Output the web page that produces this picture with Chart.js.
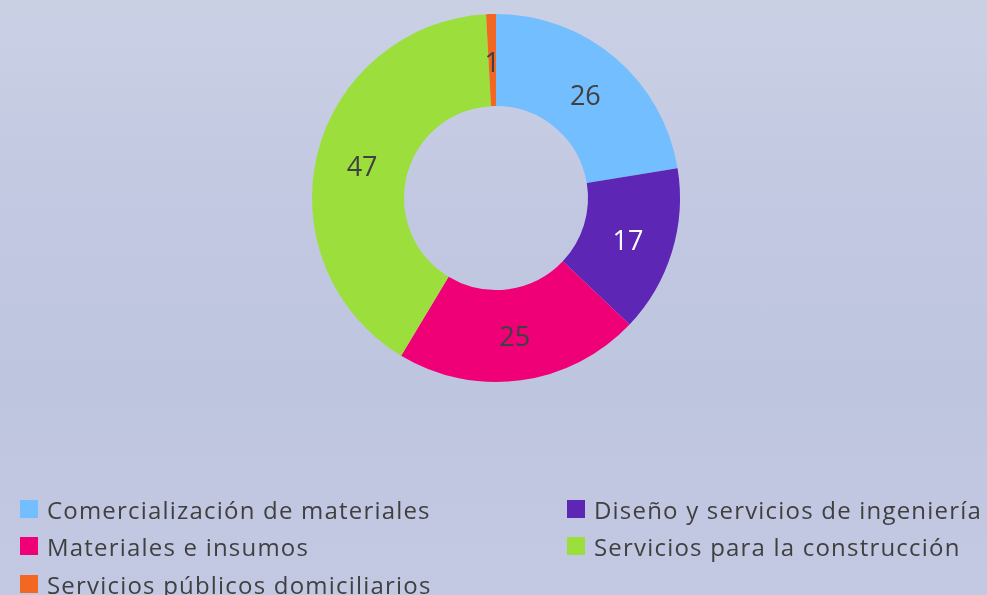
<!DOCTYPE html>
<html>
<head>
<meta charset="utf-8">
<script src="https://cdn.jsdelivr.net/npm/chart.js@4/dist/chart.umd.min.js"></script>
<style>
  html, body { margin: 0; padding: 0; }
  body {
    width: 987px; height: 595px; overflow: hidden; position: relative;
    background: linear-gradient(to bottom, #cad0e4 0%, #c2c8e1 35%, #bec5df 65%, #c4c9e3 100%);
    font-family: "Open Sans", sans-serif;
  }
  #chartBox { position: absolute; left: 0; top: 0; width: 987px; height: 397px; }
  #leyenda { position: absolute; left: 0; top: 0; width: 987px; height: 595px; }
  .item { position: absolute; display: flex; align-items: center; height: 18px; color: #404040; font-size: 24px; letter-spacing: 1.2px; white-space: nowrap; }
  .item span.caja { width: 18px; height: 18px; margin-right: 9px; flex: none; }
</style>
</head>
<body>
<div id="chartBox"><canvas id="graficoRosca"></canvas></div>
<div id="leyenda"></div>
<script>
const categorias = [
    'Comercialización de materiales',
    'Diseño y servicios de ingeniería',
    'Materiales e insumos',
    'Servicios para la construcción',
    'Servicios públicos domiciliarios'
];
const valores = [26, 17, 25, 47, 1];
const cores = ['#72befe', '#5d26b5', '#f00077', '#9cde3c', '#f26822'];
const coresTexto = ['#404040', '#ffffff', '#404040', '#404040', '#404040'];

// rotulos no meio de cada fatia
const rotulosPlugin = {
    id: 'rotulos',
    afterDatasetsDraw(chart) {
        const ctx = chart.ctx;
        const meta = chart.getDatasetMeta(0);
        ctx.save();
        ctx.font = '27px "Open Sans", sans-serif';
        ctx.textAlign = 'center';
        ctx.textBaseline = 'middle';
        meta.data.forEach((arco, i) => {
            const p = arco.tooltipPosition();
            ctx.fillStyle = coresTexto[i];
            ctx.fillText(String(valores[i]), p.x, p.y + 4);
        });
        ctx.restore();
    }
};

const grafico = new Chart(document.getElementById('graficoRosca'), {
    type: 'doughnut',
    data: {
        labels: categorias,
        datasets: [{
            data: valores,
            backgroundColor: cores,
            borderWidth: 0,
            hoverOffset: 0,
            offset: 0
        }]
    },
    options: {
        responsive: true,
        maintainAspectRatio: false,
        animation: false,
        cutout: '50%',
        layout: { padding: { top: 14, bottom: 15, left: 5, right: 0 } },
        plugins: {
            legend: { display: false },
            tooltip: { enabled: false }
        }
    },
    plugins: [rotulosPlugin]
});

// legenda em duas colunas
const posLegenda = [[20, 500], [567, 500], [20, 537], [567, 537], [20, 575]];
const leyenda = document.getElementById('leyenda');
categorias.forEach((nome, i) => {
    const div = document.createElement('div');
    div.className = 'item';
    div.style.left = posLegenda[i][0] + 'px';
    div.style.top = posLegenda[i][1] + 'px';
    div.innerHTML = `<span class="caja" style="background:${cores[i]}"></span><span>${nome}</span>`;
    leyenda.appendChild(div);
});
</script>
</body>
</html>
